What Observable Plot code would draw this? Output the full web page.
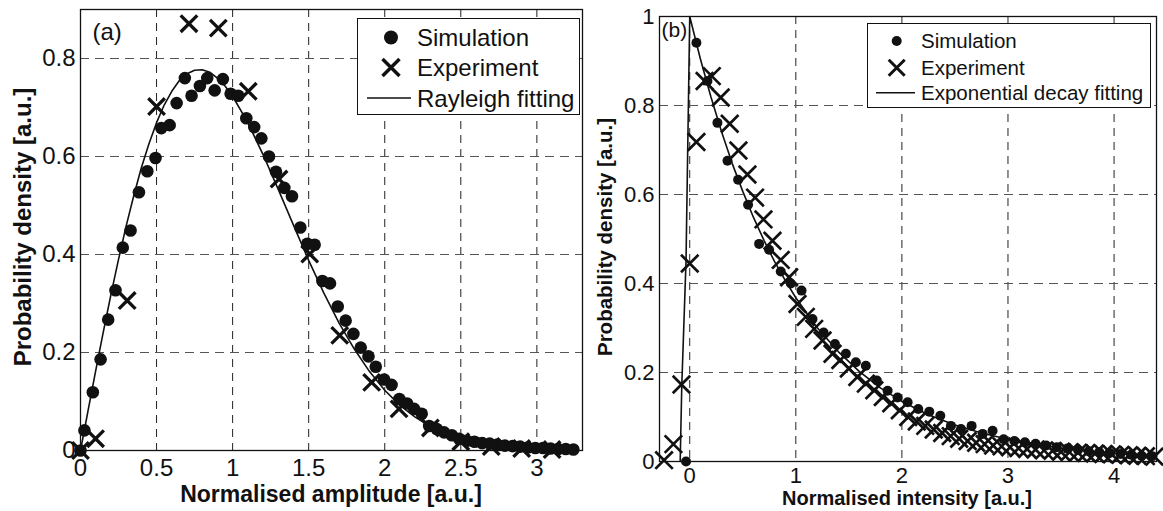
<!DOCTYPE html>
<html><head><meta charset="utf-8">
<script src="https://cdn.jsdelivr.net/npm/d3@7"></script>
<script src="https://cdn.jsdelivr.net/npm/@observablehq/plot@0.6"></script>
<style>
html,body{margin:0;padding:0;background:#fff;}
#wrap{position:relative;width:1163px;height:511px;overflow:hidden;font-family:"Liberation Sans",Arial,sans-serif;}
#pa,#pb{position:absolute;top:0;}
#pa{left:0px;} #pb{left:585px;}
.legend{position:absolute;background:#fff;border:1.3px solid #111;box-sizing:border-box;}
.legend svg{position:absolute;left:0;top:0;overflow:visible;}
</style></head><body>
<div id="wrap"><div id="pa"></div><div id="pb"></div>
<div class="legend" id="la" style="left:357px;top:18px;width:223px;height:97px;"></div>
<div class="legend" id="lb" style="left:867px;top:23px;width:284px;height:85px;"></div>
</div>
<script>
// ---------- Panel (a): amplitude ----------
const simA_x = [0,0.026,0.081,0.132,0.182,0.230,0.278,0.329,0.384,0.439,0.493,0.531,0.586,0.632,0.686,0.730,0.785,0.833,0.882,0.936,0.987,1.037,1.090,1.142,1.189,1.239,1.285,1.340,1.390,1.445,1.491,1.539,1.590,1.640,1.691,1.743,1.794,1.842,1.893,1.941,1.996,2.045,2.096,2.147,2.193,2.243,2.292,2.342,2.390,2.441,2.489,2.54,2.59,2.64,2.69,2.74,2.79,2.84,2.89,2.94,2.99,3.04,3.09,3.14,3.19,3.24];
const simA_y = [0,0.041,0.119,0.186,0.267,0.327,0.414,0.449,0.527,0.570,0.597,0.658,0.664,0.709,0.760,0.724,0.744,0.760,0.735,0.758,0.728,0.724,0.678,0.660,0.637,0.600,0.569,0.536,0.519,0.455,0.422,0.420,0.346,0.341,0.294,0.265,0.238,0.210,0.192,0.171,0.145,0.134,0.105,0.096,0.085,0.075,0.050,0.044,0.037,0.031,0.024,0.020,0.018,0.015,0.014,0.012,0.010,0.009,0.008,0.006,0.005,0.005,0.004,0.003,0.003,0.002];
const expA_x = [0,0.099,0.307,0.500,0.713,0.906,1.103,1.305,1.507,1.704,1.914,2.094,2.3,2.5,2.7,2.9,3.1];
const expA_y = [0,0.024,0.306,0.702,0.871,0.862,0.733,0.554,0.401,0.235,0.139,0.085,0.046,0.018,0.008,0.004,0.002];
const fitA_x = [0,0.05,0.1,0.15,0.2,0.25,0.3,0.35,0.4,0.45,0.5,0.55,0.6,0.65,0.7,0.75,0.8,0.85,0.9,0.95,1.0,1.1,1.2,1.3,1.4,1.5,1.6,1.7,1.8,1.9,2.0,2.1,2.2,2.3,2.4,2.5,2.6,2.8,3.0,3.2,3.25];
const fitA_y = [0,0.082,0.163,0.242,0.318,0.390,0.458,0.520,0.577,0.626,0.669,0.705,0.733,0.755,0.769,0.776,0.777,0.772,0.760,0.744,0.723,0.669,0.604,0.533,0.460,0.388,0.321,0.260,0.207,0.161,0.123,0.092,0.068,0.049,0.035,0.024,0.017,0.007,0.003,0.001,0.001];
const ticksA_x = [0,0.5,1,1.5,2,2.5,3];
const ticksA_y = [0,0.2,0.4,0.6,0.8];

// ---------- Panel (b): intensity ----------
const simB_x = [-0.035,0.063,0.167,0.261,0.356,0.456,0.550,0.654,0.748,0.858,0.953,1.054,1.157,1.262,1.369,1.472,1.566,1.660,1.764,1.865,1.959,2.054,2.154,2.258,2.362,2.462,2.557,2.657,2.761,2.855,2.959,3.06,3.16,3.26,3.36,3.46,3.56,3.66,3.76,3.86,3.96,4.06,4.16,4.26,4.36];
const simB_y = [0.0,0.941,0.855,0.761,0.676,0.633,0.577,0.489,0.476,0.427,0.400,0.384,0.320,0.290,0.264,0.242,0.223,0.215,0.182,0.159,0.144,0.133,0.118,0.112,0.103,0.080,0.073,0.080,0.062,0.069,0.050,0.046,0.043,0.040,0.036,0.032,0.029,0.026,0.023,0.021,0.019,0.017,0.015,0.013,0.012];
const expB_x = [-0.242,-0.154,-0.078,0.0,0.063,0.14,0.208,0.292,0.377,0.459,0.544,0.616,0.695,0.780,0.858,0.937,1.016,1.094,1.173,1.252,1.346,1.42,1.50,1.58,1.66,1.74,1.82,1.90,1.98,2.06,2.14,2.22,2.30,2.38,2.46,2.54,2.62,2.70,2.78,2.86,2.94,3.02,3.10,3.18,3.26,3.34,3.42,3.50,3.58,3.66,3.74,3.82,3.90,3.98,4.06,4.14,4.22,4.30,4.38];
const expB_y = [0.003,0.039,0.173,0.445,0.718,0.855,0.866,0.818,0.759,0.699,0.645,0.593,0.544,0.496,0.453,0.414,0.354,0.325,0.298,0.272,0.242,0.228,0.209,0.190,0.175,0.160,0.145,0.131,0.115,0.100,0.090,0.080,0.072,0.064,0.057,0.051,0.046,0.042,0.039,0.036,0.034,0.032,0.030,0.028,0.027,0.025,0.024,0.022,0.021,0.020,0.019,0.018,0.017,0.016,0.015,0.014,0.013,0.012,0.011];
const fitB_x = [-0.09,-0.075,-0.035,0.0,0.1,0.2,0.3,0.4,0.5,0.6,0.7,0.8,0.9,1.0,1.2,1.4,1.6,1.8,2.0,2.25,2.5,2.75,3.0,3.5,4.0,4.4];
const fitB_y = [0.0,0.17,0.45,1.0,0.905,0.819,0.741,0.670,0.607,0.549,0.497,0.449,0.407,0.368,0.301,0.247,0.202,0.165,0.135,0.105,0.082,0.064,0.050,0.030,0.018,0.012];
const ticksB_x = [0,1,2,3,4];
const ticksB_y = [0,0.2,0.4,0.6,0.8,1];

const zip = (xs, ys) => xs.map((x, i) => ({x, y: ys[i]}));
const fmt = d3.format("~g");
const FONT = '"Liberation Sans", Arial, sans-serif';

function makePanel(c) {
  const svg = Plot.plot({
    width: c.width, height: 511,
    marginLeft: c.ml, marginRight: c.mr, marginTop: c.mt, marginBottom: c.mb,
    style: {fontFamily: FONT, fontSize: c.fs + "px", color: "#111", background: "transparent", overflow: "visible"},
    x: {domain: c.xDomain},
    y: {domain: c.yDomain},
    marks: [
      Plot.ruleX(c.xGrid, {stroke: "#222", strokeWidth: 1, strokeDasharray: "8,6"}),
      Plot.ruleY(c.yGrid, {stroke: "#555", strokeWidth: 1.2, strokeDasharray: "9,6"}),
      Plot.axisX({ticks: c.xTicks, tickSize: 0, tickPadding: c.xPad, tickFormat: fmt, label: null}),
      Plot.axisY({ticks: c.yTicks, tickSize: 0, tickPadding: c.yPad, tickFormat: fmt, label: null}),
      Plot.line(c.fit, {x: "x", y: "y", stroke: "#111", strokeWidth: 1.6}),
      Plot.dot(c.sim, {x: "x", y: "y", r: c.dotR, fill: "#111", stroke: null}),
      Plot.dot(c.exp, {x: "x", y: "y", r: c.crossR, symbol: "times", stroke: "#111", strokeWidth: c.crossW}),
      Plot.frame({stroke: "#111", strokeWidth: 1.3}),
      Plot.text([c.tag], {frameAnchor: "top-left", text: d => d, dx: c.tagDx, dy: c.tagDy, fontSize: c.tagFs, textAnchor: "start", lineAnchor: "top", fill: "#111"})
    ]
  });
  const s = d3.select(svg);
  s.append("text").attr("x", c.xtX).attr("y", c.xtY).attr("text-anchor", "middle")
    .attr("font-family", FONT).attr("font-weight", "bold").attr("font-size", c.tfs).attr("fill", "#111").text(c.xTitle);
  s.append("text").attr("transform", `translate(${c.ytX},${c.ytY}) rotate(-90)`).attr("text-anchor", "middle")
    .attr("font-family", FONT).attr("font-weight", "bold").attr("font-size", c.tfs2).attr("fill", "#111").text(c.yTitle);
  return svg;
}

document.getElementById("pa").appendChild(makePanel({
  width: 585, ml: 80, mr: 3, mt: 9, mb: 61, fs: 24,
  xDomain: [0, 3.3], yDomain: [0, 0.9],
  xGrid: [0.5, 1, 1.5, 2, 2.5, 3], yGrid: [0.2, 0.4, 0.6, 0.8],
  xTicks: ticksA_x, yTicks: ticksA_y, xPad: 8, yPad: 5,
  sim: zip(simA_x, simA_y), exp: zip(expA_x, expA_y), fit: zip(fitA_x, fitA_y),
  dotR: 6.3, crossR: 7.6, crossW: 3.3,
  tag: "(a)", tagDx: 12, tagDy: 13, tagFs: 24,
  xTitle: "Normalised amplitude [a.u.]", xtX: 331, xtY: 502, tfs: 23,
  yTitle: "Probability density [a.u.]", ytX: 31, ytY: 227, tfs2: 24
}));

document.getElementById("pb").appendChild(makePanel({
  width: 578, ml: 74, mr: 7, mt: 16, mb: 50, fs: 22,
  xDomain: [-0.285, 4.4], yDomain: [0, 1],
  xGrid: [0, 1, 2, 3, 4], yGrid: [0.2, 0.4, 0.6, 0.8],
  xTicks: ticksB_x, yTicks: ticksB_y, xPad: 6, yPad: 5,
  sim: zip(simB_x, simB_y), exp: zip(expB_x, expB_y), fit: zip(fitB_x, fitB_y),
  dotR: 5, crossR: 8, crossW: 2.7,
  tag: "(b)", tagDx: 2, tagDy: 6, tagFs: 21,
  xTitle: "Normalised intensity [a.u.]", xtX: 322, xtY: 505, tfs: 20,
  yTitle: "Probability density [a.u.]", ytX: 27, ytY: 237, tfs2: 20.5
}));

// ---------- Legends ----------
function legend(id, o) {
  const el = document.getElementById(id);
  const s = d3.select(el).append("svg").attr("width", o.w).attr("height", o.h);
  s.append("circle").attr("cx", o.sx).attr("cy", o.rows[0]).attr("r", o.dr).attr("fill", "#111");
  const k = o.ck;
  s.append("path").attr("d", `M${o.sx - k},${o.rows[1] - k}L${o.sx + k},${o.rows[1] + k}M${o.sx - k},${o.rows[1] + k}L${o.sx + k},${o.rows[1] - k}`)
    .attr("stroke", "#111").attr("stroke-width", o.cw).attr("fill", "none");
  s.append("line").attr("x1", o.l1).attr("x2", o.l2).attr("y1", o.rows[2]).attr("y2", o.rows[2]).attr("stroke", "#111").attr("stroke-width", 1.6);
  o.labels.forEach((t, i) => {
    s.append("text").attr("x", o.tx).attr("y", o.rows[i]).attr("dy", "0.36em")
      .attr("font-family", FONT).attr("font-size", o.fs).attr("fill", "#111").text(t);
  });
}
legend("la", {w: 223, h: 97, sx: 33, rows: [18.5, 48.5, 79], dr: 7, ck: 8.5, cw: 3.5, l1: 9, l2: 53, tx: 59, fs: 24,
  labels: ["Simulation", "Experiment", "Rayleigh fitting"]});
legend("lb", {w: 284, h: 85, sx: 28.7, rows: [17, 43.7, 68.7], dr: 5, ck: 8, cw: 3, l1: 8, l2: 47, tx: 53, fs: 20.5,
  labels: ["Simulation", "Experiment", "Exponential decay fitting"]});
</script>
</body></html>
